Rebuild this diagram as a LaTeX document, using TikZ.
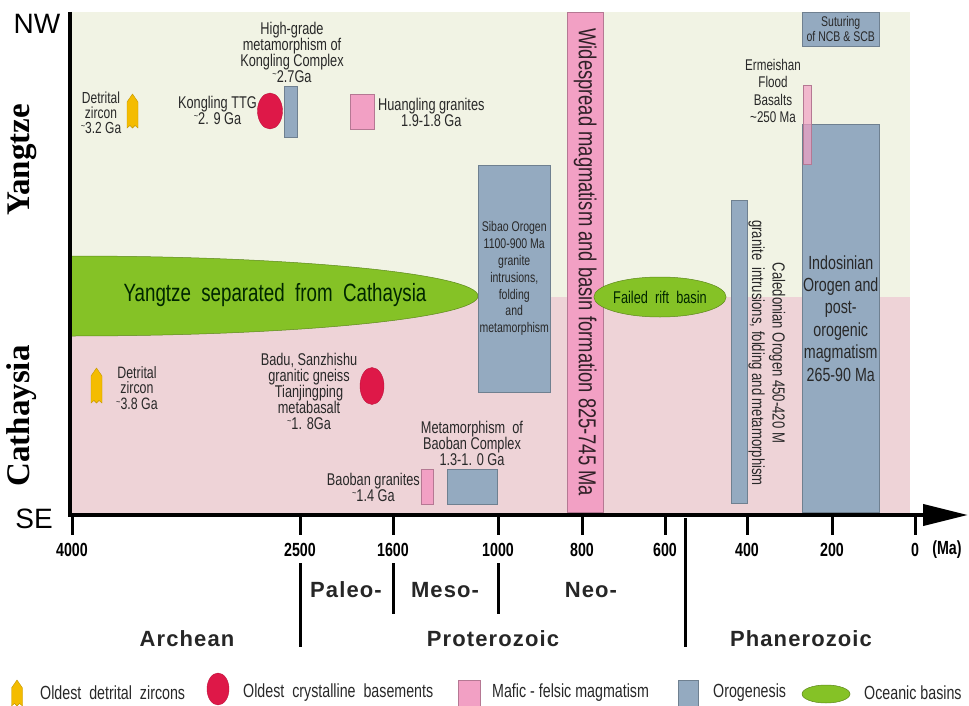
\documentclass[tikz,border=0pt]{standalone}
\usepackage{fontspec}
\setmainfont{Liberation Sans}
\newfontfamily\narrowsf{Liberation Sans}[FakeStretch=0.75]
\newfontfamily\serifsf{Liberation Serif}
\newfontfamily\erasf{Liberation Sans}[LetterSpace=5]
\usetikzlibrary{positioning, shapes.geometric, arrows.meta}

\definecolor{creambg}{RGB}{241,243,228}
\definecolor{pinkbg}{RGB}{238,211,215}
\definecolor{oroblue}{RGB}{148,170,192}
\definecolor{magpink}{RGB}{242,160,196}
\definecolor{basingreen}{RGB}{133,194,38}
\definecolor{crustred}{RGB}{222,24,72}
\definecolor{zircony}{RGB}{244,188,0}
\definecolor{txtgray}{RGB}{40,40,40}

\newcommand{\fs}[2]{\fontsize{#1}{#2}\selectfont}
\newcommand{\apx}{\raisebox{0.5ex}{\fontsize{10}{10}\selectfont\textasciitilde}}
% zircon crystal: centre x, top y, bottom y
\newcommand{\zircon}[3]{%
  \filldraw[zircon] (#1-5.5,#3) -- (#1-5.5,#2+8) -- (#1,#2) -- (#1+5.5,#2+8) -- (#1+5.5,#3)
    -- (#1+2.5,#3-2.5) -- (#1,#3) -- (#1-2.5,#3-2.5) -- cycle;}

\begin{document}
\begin{tikzpicture}[
		x=1pt, y=-1pt,                 % 像素坐标，y 向下
		orogen/.style={fill=oroblue, draw=oroblue!75!black, line width=0.5pt, inner sep=0pt},
		magma/.style={fill=magpink, draw=magpink!75!black, line width=0.5pt, inner sep=0pt},
		basin/.style={ellipse, fill=basingreen, draw=basingreen!70!black, line width=0.5pt, inner sep=0pt},
		crust/.style={ellipse, fill=crustred, draw=crustred!85!black, line width=0.4pt, inner sep=0pt},
		zircon/.style={fill=zircony, draw=zircony!80!black, line width=0.4pt},
		lbl/.style={font=\narrowsf\fs{17}{16}, text=txtgray, align=center, inner sep=0pt},
		axisline/.style={line width=4pt, black},
		tickline/.style={line width=3pt, black},
		ticklbl/.style={font=\narrowsf\bfseries\fs{19}{19}, inner sep=0pt},
		era/.style={font=\erasf\bfseries\fs{22}{22}, text=black!85, inner sep=0pt},
		legend/.style={font=\narrowsf\fs{19}{20}, text=txtgray, anchor=west, inner sep=0pt}
		]
		\useasboundingbox (0,0) rectangle (969,706);

		% backgrounds
		\fill[creambg] (72,12) rectangle (910,297);
		\fill[pinkbg] (72,297) rectangle (910,513);

		% Yangtze / Cathaysia separation
		\begin{scope}
			\clip (72,0) rectangle (969,706);
			\filldraw[fill=basingreen, draw=basingreen!70!black, line width=0.5pt] (72,296) ellipse [x radius=406, y radius=40];
		\end{scope}
		\node[font=\narrowsf\fs{25}{25}, text=black!85!green, inner sep=0pt] (sep) at (275,295) {Yangtze~ separated~ from~ Cathaysia};

		% Yangtze side
		\zircon{132.5}{94}{128}
		\node[lbl, font=\narrowsf\fs{16}{15}] (zy) at (101,113) {Detrital\\zircon\\\apx3.2 Ga};
		\node[crust, minimum width=25, minimum height=36] (ttg) at (270,111) {};
		\node[lbl, anchor=east] (ttg-l) at (257,110) {Kongling TTG\\\apx2. 9 Ga};
		\node[orogen, anchor=north west, minimum width=13, minimum height=51] (kcx) at (284,86) {};
		\node[lbl] (kcx-l) at (292,52) {High-grade\\metamorphism of\\Kongling Complex\\\apx2.7Ga};
		\node[magma, anchor=north west, minimum width=24, minimum height=35] (hl) at (350,94) {};
		\node[lbl, anchor=west] (hl-l) at (378,112) {Huangling granites\\1.9-1.8 Ga};

		% Cathaysia side
		\zircon{96.5}{368}{403}
		\node[lbl, font=\narrowsf\fs{16.5}{15.5}] (zc) at (137,388) {Detrital\\zircon\\\apx3.8 Ga};
		\node[crust, minimum width=24, minimum height=37] (badu) at (372,386) {};
		\node[lbl] (badu-l) at (309,391) {Badu, Sanzhishu\\granitic gneiss\\Tianjingping\\metabasalt\\\apx1. 8Ga};
		\node[magma, anchor=north west, minimum width=12, minimum height=35] (bbg) at (421,469) {};
		\node[lbl, anchor=east] (bbg-l) at (420,487) {Baoban granites\\\apx1.4 Ga};
		\node[orogen, anchor=north west, minimum width=50, minimum height=35] (bbc) at (447,469) {};
		\node[lbl] (bbc-l) at (472,443) {Metamorphism~ of\\Baoban Complex\\1.3-1. 0 Ga};

		% orogens and magmatism
		\node[orogen, anchor=north west, minimum width=72, minimum height=227,
			font=\narrowsf\fs{14}{16.8}, text=txtgray, align=center] (sibao) at (478,165)
			{Sibao Orogen\\1100-900 Ma\\granite\\intrusions,\\folding\\and\\metamorphism};
		\node[magma, anchor=north west, minimum width=36, minimum height=500] (wide) at (567,12) {};
		\node[rotate=-90, font=\narrowsf\fs{24.5}{25}, text=black!80!magpink, inner sep=0pt] (wide-l) at (wide.center) {Widespread magmatism and basin formation 825-745 Ma};
		\node[basin, minimum width=108, minimum height=40, font=\narrowsf\fs{17}{17}, text=black!85!green] (rift) at (660,297) {Failed~ rift~ basin};
		\node[orogen, anchor=north west, minimum width=16, minimum height=303] (cal) at (731,200) {};
		\node[rotate=-90, font=\narrowsf\fs{17.5}{20.5}, text=txtgray, align=center, inner sep=0pt] (cal-l) at (767,353)
			{Caledonian Orogen 450-420 M\\granite~ intrusions, folding and metamorphism};
		\node[orogen, anchor=north west, minimum width=77, minimum height=388,
			font=\narrowsf\fs{19}{22.4}, text=txtgray, align=center] (indo) at (802,124)
			{Indosinian\\Orogen and\\post-\\orogenic\\magmatism\\265-90 Ma};
		\node[orogen, anchor=north west, minimum width=77, minimum height=34,
			font=\narrowsf\fs{14}{15}, text=txtgray, align=center] (sut) at (802,12) {Suturing\\of NCB \& SCB};
		\node[magma, fill opacity=0.7, anchor=north west, minimum width=8, minimum height=79] (erm) at (803,85) {};
		\node[lbl, font=\narrowsf\fs{15.5}{17.5}] (erm-l) at (773,91) {Ermeishan\\Flood\\Basalts\\\textasciitilde250 Ma};

		% axes
		\coordinate (nw) at (70,12);
		\coordinate (o) at (70,515);
		\coordinate (tip) at (968,515);
		\draw[axisline] (nw) -- (o);
		\draw[axisline, -{Triangle[length=45pt, width=21pt]}] (68,515) -- (tip);
		\foreach \x/\t in {72/4000, 300/2500, 393/1600, 498/1000, 582/800, 665/600, 747/400, 832/200, 915/0}{
			\draw[tickline] (\x,515) -- (\x,535);
			\node[ticklbl] (t\t) at (\x,550) {\t};
		}
		\node[ticklbl] (ma) at (947,550) {(Ma)};
		\node[font=\fs{28}{28}, inner sep=0pt] (nwl) at (37,24) {NW};
		\node[font=\fs{28}{28}, inner sep=0pt] (sel) at (34,519) {SE};
		\node[rotate=90, font=\serifsf\bfseries\fs{33}{33}, inner sep=0pt] (yz) at (22,160) {Yangtze};
		\node[rotate=90, font=\serifsf\bfseries\fs{33}{33}, inner sep=0pt] (cy) at (22,416) {Cathaysia};

		% eons and eras
		\draw[tickline] (300,563) -- (300,647);
		\draw[tickline] (393,563) -- (393,614);
		\draw[tickline] (498,563) -- (498,614);
		\draw[tickline] (685,518) -- (685,647);
		\node[era] (paleo) at (346,590) {Paleo-};
		\node[era] (meso) at (445,590) {Meso-};
		\node[era] (neo) at (591,590) {Neo-};
		\node[era] (arch) at (187,639) {Archean};
		\node[era] (prot) at (493,639) {Proterozoic};
		\node[era] (phan) at (801,639) {Phanerozoic};

		% legend
		\zircon{17}{680}{706}
		\node[legend] (lg1) at (40,693) {Oldest~ detrital~ zircons};
		\node[crust, minimum width=22, minimum height=32] (lg2s) at (218,689) {};
		\node[legend] (lg2) at (243,693) {Oldest~ crystalline~ basements};
		\node[magma, anchor=north west, minimum width=22, minimum height=26] (lg3s) at (458,680) {};
		\node[legend] (lg3) at (492,693) {Mafic - felsic magmatism};
		\node[orogen, anchor=north west, minimum width=20, minimum height=26] (lg4s) at (678,680) {};
		\node[legend] (lg4) at (713,693) {Orogenesis};
		\node[basin, minimum width=48, minimum height=18] (lg5s) at (826,694) {};
		\node[legend] (lg5) at (864,693) {Oceanic basins};
	\end{tikzpicture}
\end{document}
